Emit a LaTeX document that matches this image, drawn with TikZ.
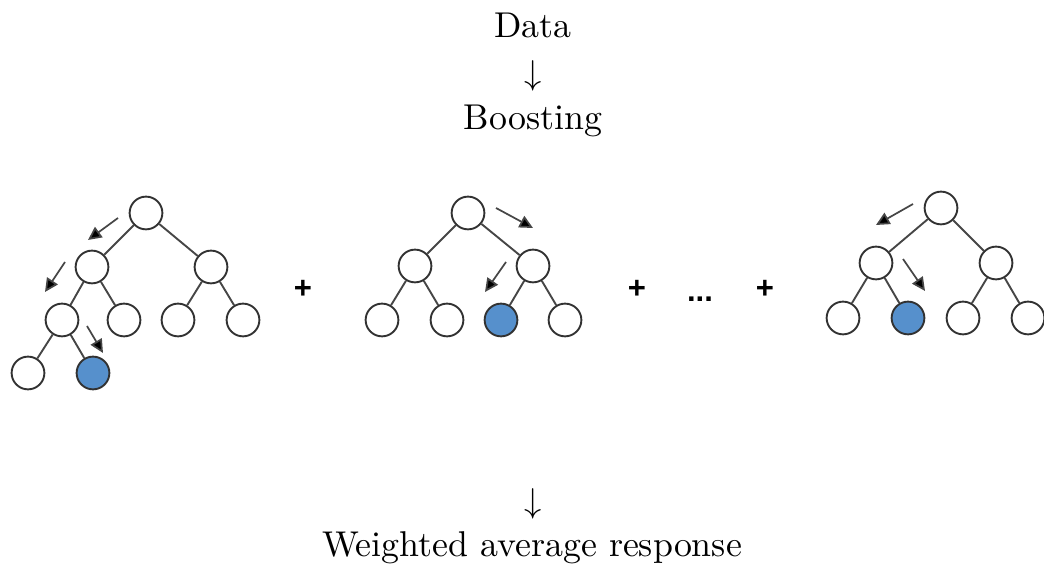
\documentclass[tikz,border=0pt]{standalone}
\usepackage{fontspec}
\newfontfamily\opfont{Liberation Sans}
\usetikzlibrary{arrows.meta}
\definecolor{leafblue}{RGB}{86,144,204}
\definecolor{edgegray}{RGB}{70,70,70}
\definecolor{ringgray}{RGB}{50,50,50}
\begin{document}
\begin{tikzpicture}[
        x=0.29pt, y=-0.29pt,
        vertex/.style={draw=ringgray, circle, minimum size=9.5pt, inner sep=0pt, line width=0.55pt, fill=white},
        hit/.style={vertex, fill=leafblue},
        branch/.style={draw=edgegray, line width=0.55pt},
        hint/.style={draw=edgegray, line width=0.5pt, -{Triangle[length=3.9pt, width=3.7pt, fill=black]}},
        op/.style={font=\opfont\bfseries\fontsize{9}{10}\selectfont},
        title/.style={anchor=base, font=\fontsize{10.4}{12.5}\selectfont},
    ]
    \useasboundingbox (0,0) rectangle (1044,565);

    % text column
    \node[title] (data) at (533,38) {Data};
    \node[title] (down1) at (533,85) {$\downarrow$};
    \node[title] (boost) at (533,130) {Boosting};
    \node[title] (down2) at (533,513) {$\downarrow$};
    \node[title] (avg) at (532,557) {Weighted average response};

    % first tree
    \node[vertex] (t1) at (146,213) {};
    \node[vertex] (t1l) at (92,267) {};
    \node[vertex] (t1r) at (211,267) {};
    \node[vertex] (t1ll) at (62,320) {};
    \node[vertex] (t1lr) at (124,320) {};
    \node[vertex] (t1rl) at (178,320) {};
    \node[vertex] (t1rr) at (243,320) {};
    \node[vertex] (t1lll) at (28,373) {};
    \node[hit] (t1llr) at (93,373) {};
    \draw[branch] (t1) -- (t1l) (t1) -- (t1r)
        (t1l) -- (t1ll) (t1l) -- (t1lr)
        (t1r) -- (t1rl) (t1r) -- (t1rr)
        (t1ll) -- (t1lll) (t1ll) -- (t1llr);

    % second tree
    \node[vertex] (t2) at (468,213) {};
    \node[vertex] (t2l) at (415,266) {};
    \node[vertex] (t2r) at (533,266) {};
    \node[vertex] (t2ll) at (382,320) {};
    \node[vertex] (t2lr) at (447,320) {};
    \node[hit] (t2rl) at (501,320) {};
    \node[vertex] (t2rr) at (565,320) {};
    \draw[branch] (t2) -- (t2l) (t2) -- (t2r)
        (t2l) -- (t2ll) (t2l) -- (t2lr)
        (t2r) -- (t2rl) (t2r) -- (t2rr);

    % last tree
    \node[vertex] (t3) at (941,208) {};
    \node[vertex] (t3l) at (876,263) {};
    \node[vertex] (t3r) at (996,263) {};
    \node[vertex] (t3ll) at (843,318) {};
    \node[hit] (t3lr) at (908,318) {};
    \node[vertex] (t3rl) at (963,318) {};
    \node[vertex] (t3rr) at (1028,318) {};
    \draw[branch] (t3) -- (t3l) (t3) -- (t3r)
        (t3l) -- (t3ll) (t3l) -- (t3lr)
        (t3r) -- (t3rl) (t3r) -- (t3rr);

    % path hints
    \coordinate (h1s) at (118,218); \coordinate (h1e) at (88,240);
    \coordinate (h2s) at (65,262);  \coordinate (h2e) at (45,292);
    \coordinate (h3s) at (87,326);  \coordinate (h3e) at (103,353);
    \coordinate (h4s) at (496,208); \coordinate (h4e) at (533,228);
    \coordinate (h5s) at (506,262); \coordinate (h5e) at (485,292);
    \coordinate (h6s) at (913,204); \coordinate (h6e) at (876,225);
    \coordinate (h7s) at (903,259); \coordinate (h7e) at (925,291);
    \draw[hint] (h1s) -- (h1e);
    \draw[hint] (h2s) -- (h2e);
    \draw[hint] (h3s) -- (h3e);
    \draw[hint] (h4s) -- (h4e);
    \draw[hint] (h5s) -- (h5e);
    \draw[hint] (h6s) -- (h6e);
    \draw[hint] (h7s) -- (h7e);

    % sum signs
    \node[op] (plus1) at (303,289) {+};
    \node[op] (plus2) at (637,289) {+};
    \node[op] (dots) at (700,299) {...};
    \node[op] (plus3) at (765,289) {+};
\end{tikzpicture}
\end{document}
